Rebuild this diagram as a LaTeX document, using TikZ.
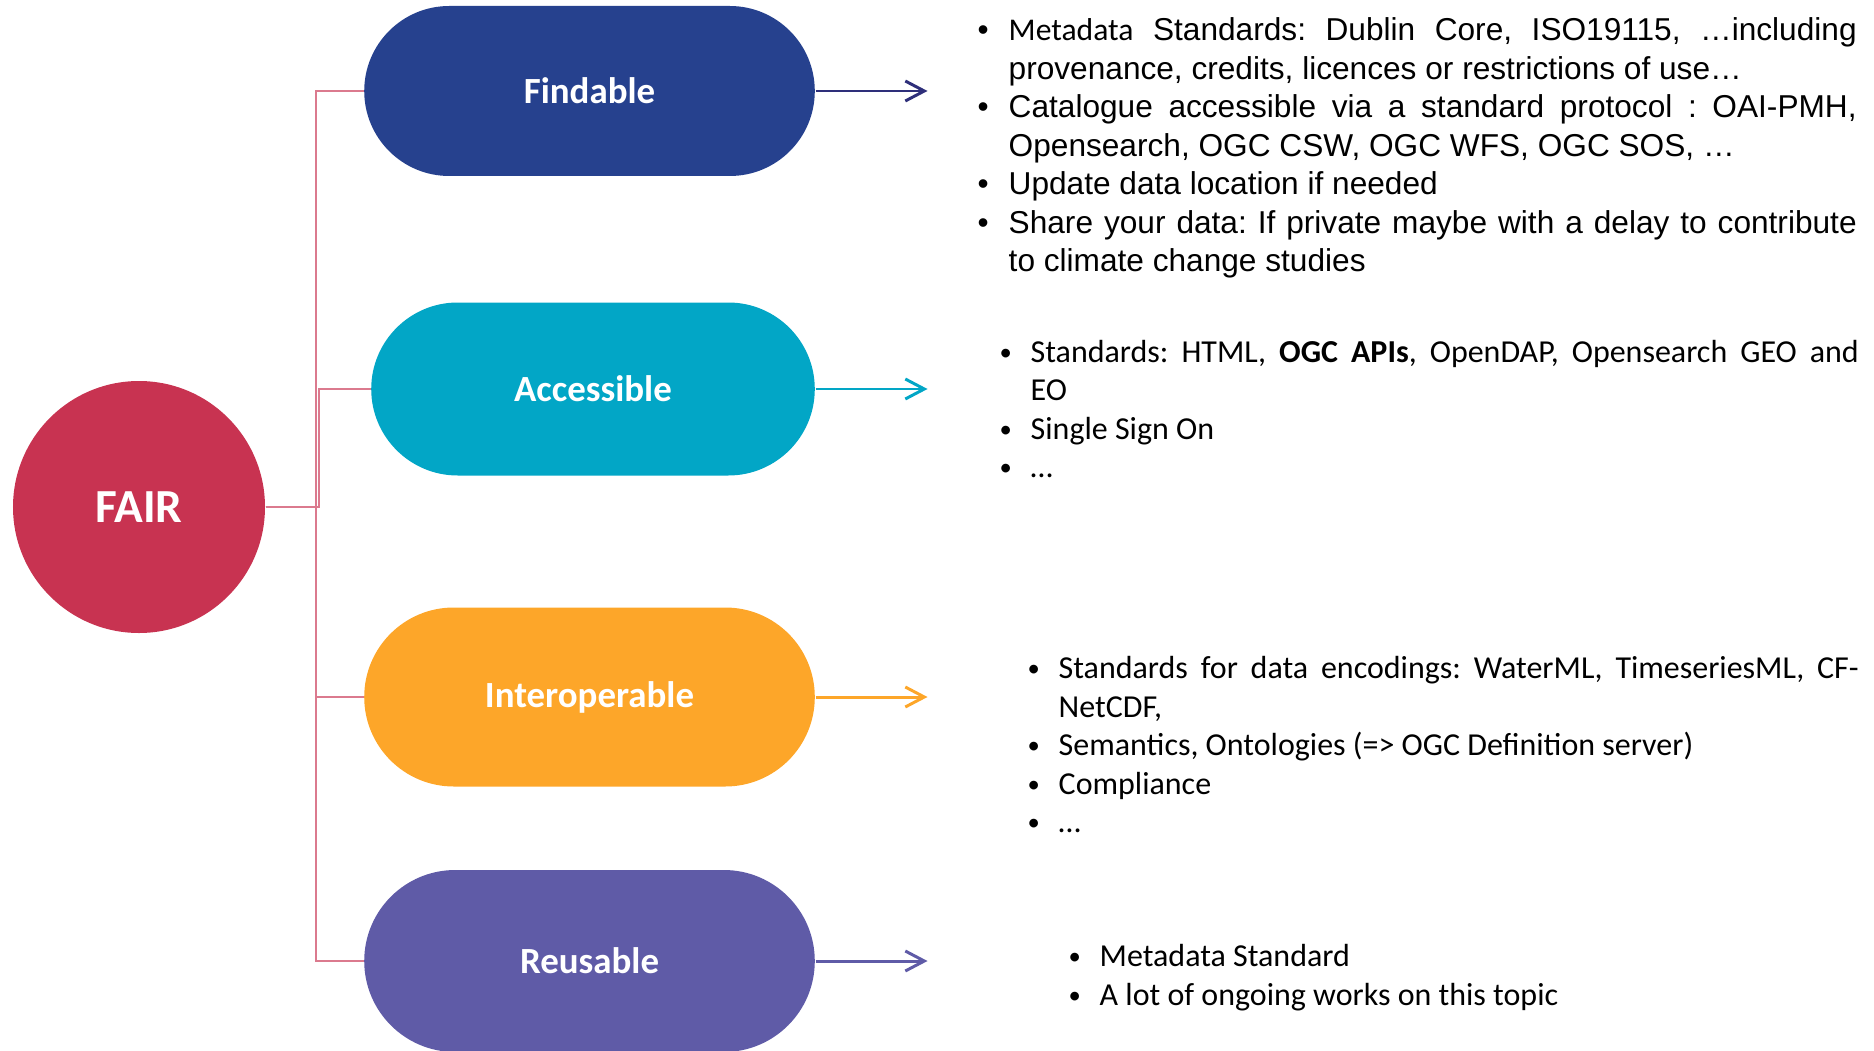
\documentclass[tikz,border=0pt]{standalone}
\usepackage{fontspec}
\setmainfont{Liberation Sans}
\newfontfamily\calibri{Carlito}
\usepackage{enumitem}
\usetikzlibrary{shapes.misc, arrows.meta, positioning}

\definecolor{fairred}{HTML}{C83351}
\definecolor{findblue}{HTML}{26418E}
\definecolor{findnavy}{HTML}{2E2F7A}
\definecolor{accblue}{HTML}{02A6C6}
\definecolor{interorange}{HTML}{FDA629}
\definecolor{reusepurple}{HTML}{5F5BA7}

\newcommand\calbullet{\raisebox{0.6pt}{\fontsize{7}{7}\selectfont\textbullet}}

\setlist[itemize]{leftmargin=3.1mm, labelindent=0pt, labelwidth=3.1mm, labelsep=0pt, align=left,
  itemsep=0pt, topsep=0pt, parsep=0pt, partopsep=0pt, label=\textbullet}

\tikzset{
  pill/.style={rounded rectangle, fill=#1, text=white, minimum width=4.74cm,
    font=\calibri\bfseries\fontsize{10.5}{12}\selectfont},
  itemtext/.style={anchor=north west, inner sep=0pt, text width=#1, align=justify},
  fairlink/.style={draw=fairred!65, line width=0.6pt},
  leadarrow/.style={draw=#1, line width=0.85pt, -{Straight Barb[length=1.9mm,width=2mm]}},
}

\begin{document}
\frenchspacing
\begin{tikzpicture}
		
		\useasboundingbox (0,0) rectangle (18.74,10.5);
		
		\node[circle, fill=fairred, minimum size=2.52cm, text=white, font=\calibri\bfseries\fontsize{13.5}{15}\selectfont] (fair) at (1.39,5.43) {FAIR};
		
		\node[pill=findblue, minimum height=1.70cm] (find) at (5.895,9.59) {Findable};
		\node[pill=accblue, minimum width=4.67cm, minimum height=1.73cm] (acc) at (5.93,6.61) {Accessible};
		\node[pill=interorange, minimum height=1.79cm] (inter) at (5.895,3.53) {Interoperable};
		\node[pill=reusepurple, minimum height=1.82cm] (reuse) at (5.895,0.89) {Reusable};
		
		% elbows from FAIR
		\draw[fairlink] (fair.east) -- ++(0.50,0) |- (find.west);
		\draw[fairlink] (fair.east) -- ++(0.53,0) |- (acc.west);
		\draw[fairlink] (fair.east) -- ++(0.50,0) |- (inter.west);
		\draw[fairlink] (fair.east) -- ++(0.50,0) |- (reuse.west);
		
		\coordinate[right=1.12cm of find.east] (find-tip);
		\coordinate[right=1.12cm of acc.east] (acc-tip);
		\coordinate[right=1.12cm of inter.east] (inter-tip);
		\coordinate[right=1.12cm of reuse.east] (reuse-tip);
		\draw[leadarrow=findnavy] (find.east) -- (find-tip);
		\draw[leadarrow=accblue] (acc.east) -- (acc-tip);
		\draw[leadarrow=interorange] (inter.east) -- (inter-tip);
		\draw[leadarrow=reusepurple] (reuse.east) -- (reuse-tip);
		
		\node[itemtext=8.79cm, font=\fontsize{9}{10.95}\selectfont] (find-text) at (9.77,10.485) {
			\begin{itemize}
				\item {\calibri Metadata} Standards: Dublin Core, ISO19115, …including\linebreak provenance, credits, licences or restrictions of use…
				\item Catalogue accessible via a standard protocol : OAI-PMH,\linebreak Opensearch, OGC CSW, OGC WFS, OGC SOS, …
				\item Update data location if needed
				\item Share your data: If private maybe with a delay to contribute\linebreak to climate change studies
			\end{itemize}};
		
		\node[itemtext=8.59cm, font=\calibri\fontsize{9.1}{10.95}\selectfont] (acc-text) at (9.99,7.27) {
			\begin{itemize}[label=\calbullet]
				\item Standards: HTML, \textbf{OGC APIs}, OpenDAP, Opensearch GEO and\linebreak EO
				\item Single Sign On
				\item …
			\end{itemize}};
		
		\node[itemtext=8.31cm, font=\calibri\fontsize{9.1}{10.95}\selectfont] (inter-text) at (10.27,4.105) {
			\begin{itemize}[label=\calbullet]
				\item Standards for data encodings: WaterML, TimeseriesML, CF-\linebreak NetCDF,
				\item Semantics, Ontologies (=> OGC Definition server)
				\item Compliance
				\item …
			\end{itemize}};
		
		\node[itemtext=7.9cm, font=\calibri\fontsize{9.1}{10.95}\selectfont] (reuse-text) at (10.68,1.225) {
			\begin{itemize}[label=\calbullet]
				\item Metadata Standard
				\item A lot of ongoing works on this topic
			\end{itemize}};
		
		\end{tikzpicture}
\end{document}
